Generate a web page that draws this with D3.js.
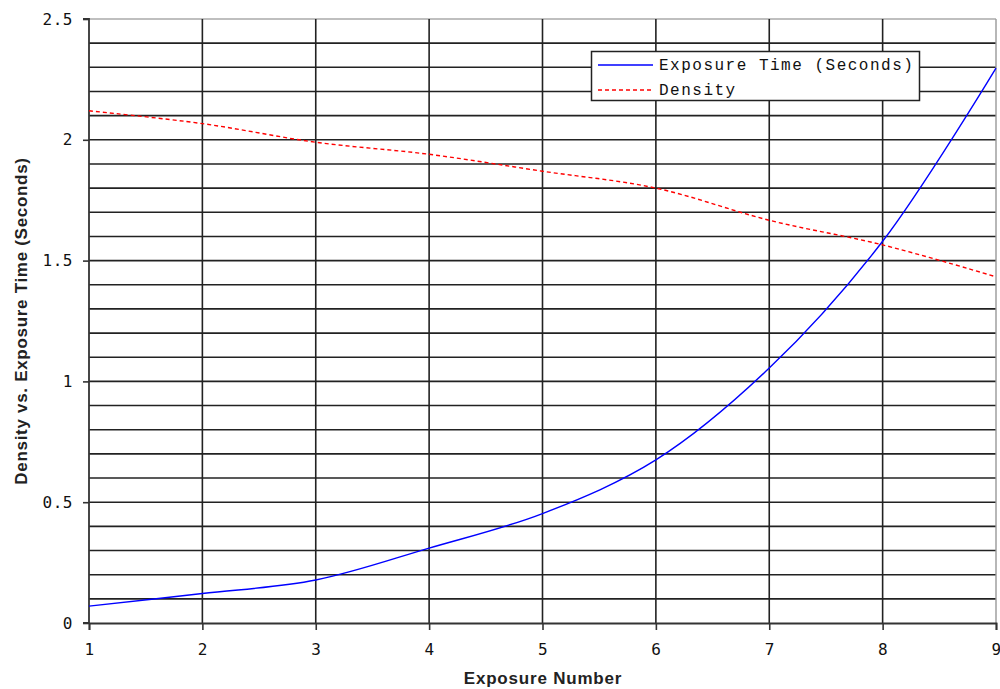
<!DOCTYPE html>
<html><head><meta charset="utf-8">
<script src="https://cdn.jsdelivr.net/npm/d3@7"></script>
<style>body{margin:0;background:#fff}</style>
</head><body>
<svg id="c" width="1000" height="689"></svg>
<script>
const exposureNumbers = [1, 2, 3, 4, 5, 6, 7, 8, 9];
const exposureTime = [0.07, 0.122, 0.178, 0.31, 0.453, 0.675, 1.055, 1.58, 2.297];
const density = [2.12, 2.067, 1.99, 1.94, 1.87, 1.80, 1.667, 1.565, 1.433];
const yTickLabels = [0, 0.5, 1, 1.5, 2, 2.5];
const seriesNames = ["Exposure Time (Seconds)", "Density"];

const svg = d3.select("#c");
const L = 89, R = 996, T = 19, B = 623;
const x = d3.scaleLinear().domain([1, 9]).range([L, R]);
const y = d3.scaleLinear().domain([0, 2.5]).range([B, T]);

// horizontal grid every 0.1
const hgrid = d3.range(1, 25).map(i => i / 10);
svg.append("g").selectAll("line").data(hgrid).join("line")
  .attr("x1", L).attr("x2", R).attr("y1", d => y(d)).attr("y2", d => y(d))
  .attr("stroke", "#222").attr("stroke-width", 1.6);
svg.append("line").attr("x1", L).attr("x2", R).attr("y1", y(2.5)).attr("y2", y(2.5))
  .attr("stroke", "#aaa").attr("stroke-width", 1.4);
// vertical grid
svg.append("g").selectAll("line").data(exposureNumbers.slice(1, -1)).join("line")
  .attr("x1", d => x(d)).attr("x2", d => x(d)).attr("y1", T).attr("y2", B)
  .attr("stroke", "#222").attr("stroke-width", 1.6);
svg.append("line").attr("x1", x(9)).attr("x2", x(9)).attr("y1", T).attr("y2", B)
  .attr("stroke", "#999").attr("stroke-width", 1.4);

// axes
const yAxis = d3.axisLeft(y).tickValues(yTickLabels).tickSize(6).tickPadding(10)
  .tickFormat(d => String(d));
const gy = svg.append("g").attr("transform", `translate(${L},0)`).call(yAxis);
const xAxis = d3.axisBottom(x).tickValues(exposureNumbers).tickSize(7).tickPadding(14)
  .tickFormat(d => String(d));
const gx = svg.append("g").attr("transform", `translate(0,${B})`).call(xAxis);
[gy, gx].forEach(g => {
  g.select(".domain").attr("stroke", "#333").attr("stroke-width", 1.8);
  g.selectAll(".tick line").attr("stroke", "#333").attr("stroke-width", 1.6);
  g.selectAll("text").attr("fill", "#111").style("font-family", "DejaVu Sans Mono")
    .style("font-size", "16px").style("letter-spacing", "0.5px");
});
gy.selectAll(".domain").attr("d", `M-6,${T}H0V${B}H-6`);

// lines
const line = vals => d3.line().x((d, i) => x(exposureNumbers[i])).y(d => y(d))
  .curve(d3.curveCatmullRom.alpha(0.5))(vals);
svg.append("path").attr("d", line(density)).attr("fill", "none")
  .attr("stroke", "#ff0000").attr("stroke-width", 1.4).attr("stroke-dasharray", "4,3");
svg.append("path").attr("d", line(exposureTime)).attr("fill", "none")
  .attr("stroke", "#0000ff").attr("stroke-width", 1.4);

// legend
const lg = svg.append("g");
lg.append("rect").attr("x", 591.5).attr("y", 51.5).attr("width", 328).attr("height", 49)
  .attr("fill", "#fff").attr("stroke", "#222").attr("stroke-width", 1.5);
const styles = [{c: "#0000ff", dash: null}, {c: "#ff0000", dash: "4,3"}];
seriesNames.forEach((n, i) => {
  const yy = 65 + i * 25;
  lg.append("line").attr("x1", 598).attr("x2", 653).attr("y1", yy).attr("y2", yy)
    .attr("stroke", styles[i].c).attr("stroke-width", 1.4)
    .attr("stroke-dasharray", styles[i].dash);
  lg.append("text").attr("x", 659).attr("y", yy + 5).text(n)
    .style("font-family", "Liberation Mono").style("font-size", "16px")
    .style("letter-spacing", "1.5px").attr("fill", "#111");
});

// titles
svg.append("text").attr("x", 543).attr("y", 684).attr("text-anchor", "middle")
  .text("Exposure Number").style("font-family", "Liberation Sans")
  .style("font-weight", "bold").style("font-size", "17px").style("letter-spacing", "0.8px")
  .attr("fill", "#222");
svg.append("text").attr("transform", "translate(27,321) rotate(-90)").attr("text-anchor", "middle")
  .text("Density vs. Exposure Time (Seconds)").style("font-family", "Liberation Sans")
  .style("font-weight", "bold").style("font-size", "17px").style("letter-spacing", "0.7px")
  .attr("fill", "#222");
</script>
</body></html>
